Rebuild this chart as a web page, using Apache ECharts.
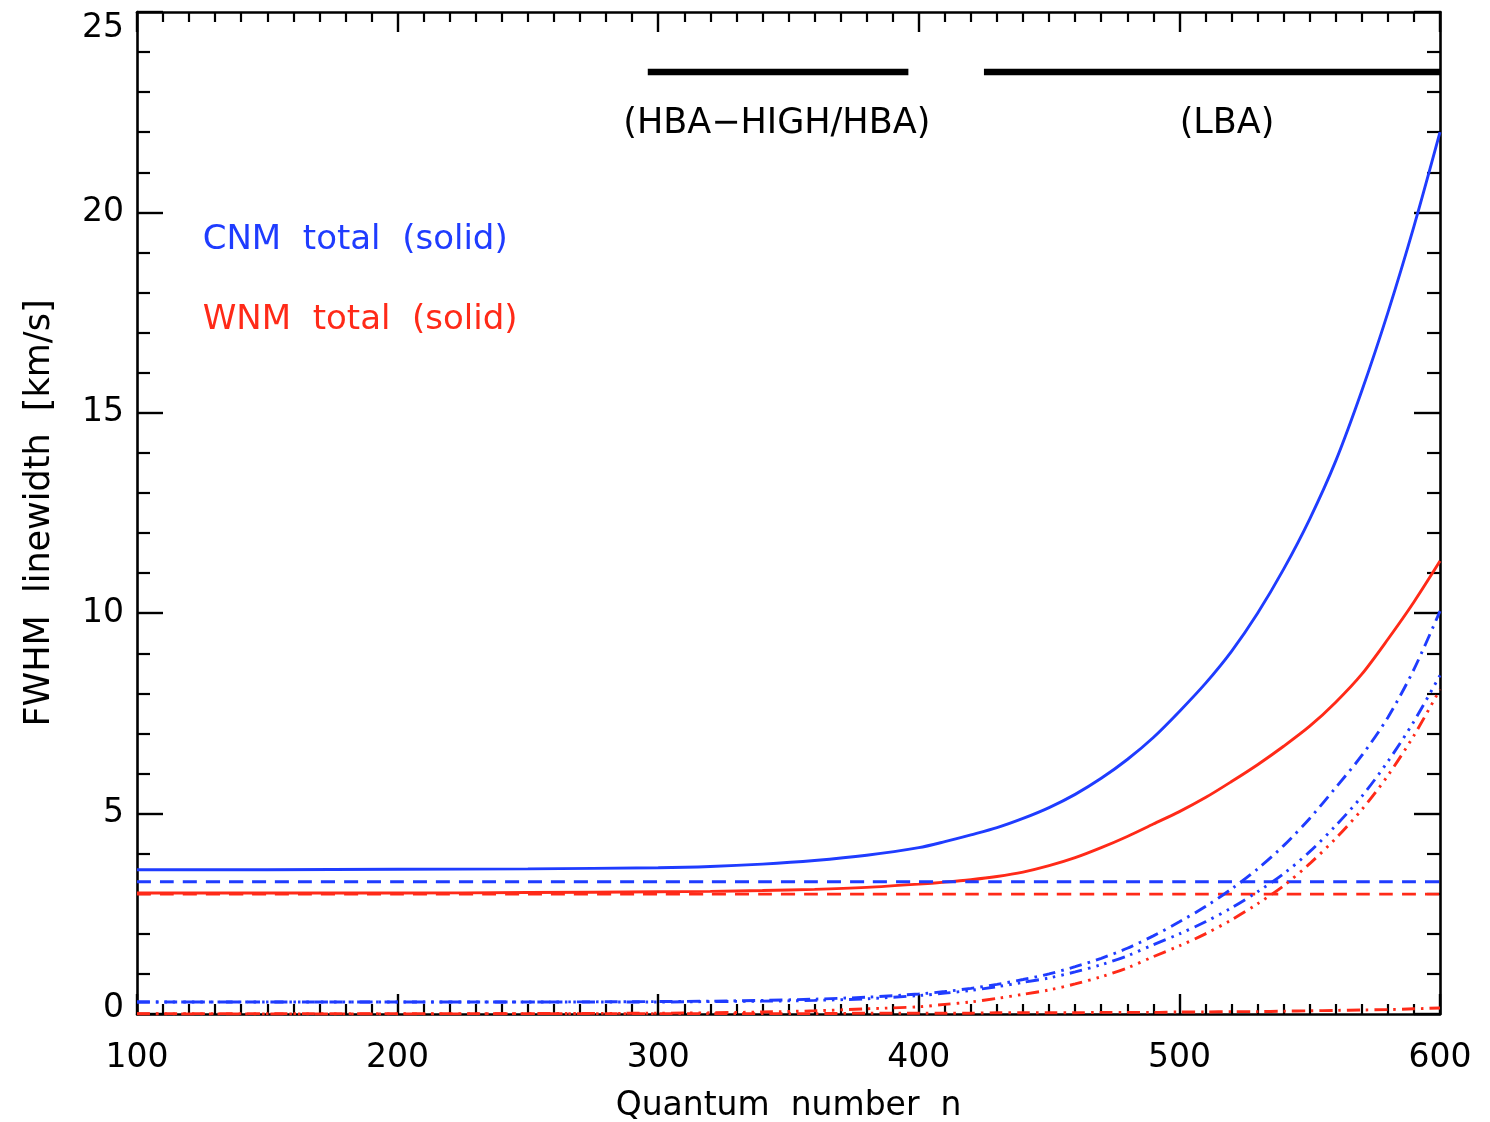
<!DOCTYPE html>
<html>
<head>
<meta charset="utf-8">
<title>FWHM linewidth vs quantum number</title>
<script src="https://cdn.jsdelivr.net/npm/echarts@6/dist/echarts.min.js"></script>
<style>
  html, body { margin: 0; padding: 0; background: #ffffff; }
  #chart { width: 1490px; height: 1122px; }
</style>
</head>
<body>
<div id="chart"></div>
<script>
// Principal quantum number grid
const quantumN = [100, 150, 200, 250, 300, 320, 340, 360, 380,
  400, 410, 420, 430, 440, 450, 460, 470, 480, 490, 500,
  510, 520, 530, 540, 550, 560, 570, 580, 590, 600];

// FWHM linewidths [km/s]
const cnmTotal = [3.60, 3.60, 3.61, 3.62, 3.65, 3.68, 3.74, 3.83, 3.96,
  4.15, 4.30, 4.47, 4.65, 4.88, 5.15, 5.48, 5.88, 6.35, 6.90, 7.55,
  8.25, 9.05, 10.00, 11.10, 12.35, 13.80, 15.55, 17.50, 19.65, 22.00];
const wnmTotal = [3.02, 3.02, 3.02, 3.03, 3.05, 3.06, 3.08, 3.11, 3.16,
  3.24, 3.29, 3.35, 3.43, 3.54, 3.70, 3.90, 4.15, 4.43, 4.74, 5.05,
  5.40, 5.80, 6.22, 6.68, 7.18, 7.78, 8.48, 9.35, 10.28, 11.30];
const cnmDoppler = [3.30, 3.30, 3.30, 3.30, 3.30, 3.30, 3.30, 3.30, 3.30,
  3.30, 3.30, 3.30, 3.30, 3.30, 3.30, 3.30, 3.30, 3.30, 3.30, 3.30,
  3.30, 3.30, 3.30, 3.30, 3.30, 3.30, 3.30, 3.30, 3.30, 3.30];
const wnmDoppler = [2.99, 2.99, 2.99, 2.99, 2.99, 2.99, 2.99, 2.99, 2.99,
  2.99, 2.99, 2.99, 2.99, 2.99, 2.99, 2.99, 2.99, 2.99, 2.99, 2.99,
  2.99, 2.99, 2.99, 2.99, 2.99, 2.99, 2.99, 2.99, 2.99, 2.99];
const cnmPressure = [0.30, 0.30, 0.30, 0.30, 0.31, 0.32, 0.34, 0.37, 0.42,
  0.50, 0.56, 0.64, 0.74, 0.86, 1.00, 1.18, 1.39, 1.64, 1.95, 2.30,
  2.68, 3.12, 3.62, 4.20, 4.88, 5.65, 6.45, 7.40, 8.60, 10.05];
const cnmRadiation = [0.30, 0.30, 0.30, 0.30, 0.30, 0.31, 0.32, 0.34, 0.38,
  0.46, 0.52, 0.59, 0.68, 0.79, 0.90, 1.05, 1.23, 1.45, 1.73, 2.00,
  2.30, 2.65, 3.05, 3.50, 4.05, 4.70, 5.43, 6.30, 7.30, 8.45];
const wnmRadiation = [0.00, 0.00, 0.00, 0.01, 0.02, 0.03, 0.05, 0.08, 0.13,
  0.18, 0.24, 0.30, 0.39, 0.49, 0.60, 0.75, 0.93, 1.15, 1.43, 1.70,
  2.00, 2.35, 2.75, 3.20, 3.75, 4.38, 5.10, 5.95, 6.95, 8.10];
const wnmPressure = [0.01, 0.01, 0.01, 0.01, 0.01, 0.01, 0.01, 0.01, 0.02,
  0.02, 0.02, 0.02, 0.03, 0.03, 0.03, 0.03, 0.04, 0.04, 0.04, 0.05,
  0.05, 0.06, 0.06, 0.07, 0.08, 0.09, 0.10, 0.11, 0.13, 0.15];

// LOFAR observing bands (range in n, bar height in km/s)
const bandNames = ['(HBA\u2212HIGH/HBA)', '(LBA)'];
const bandRanges = [[296, 396], [425, 600]];
const bandLevel = 23.5;
const bandLabelPos = [[345.5, 22.22], [518.3, 22.22]];

// Axis ticks
const xTicks = { min: 100, max: 600, step: 100 };
const yTicks = { min: 0, max: 25, step: 5 };

const BLUE = '#1f3cff';
const RED = '#ff2a18';
const FONT = 'DejaVu Sans';

const pairs = (ys) => quantumN.map((n, i) => [n, ys[i]]);

const DASH = [14, 9];
const DASH_DOT = [13, 6, 2.5, 6];
const DASH_DOT3 = [13, 6, 2.5, 6, 2.5, 6, 2.5, 6];

function curve(name, ys, color, type) {
  return {
    name, type: 'line', data: pairs(ys),
    smooth: 0.3,
    showSymbol: false, symbol: 'none',
    lineStyle: { color, width: 2.9, type, cap: 'butt' },
    silent: true, z: 3
  };
}

const series = [
  curve('CNM total', cnmTotal, BLUE, 'solid'),
  curve('WNM total', wnmTotal, RED, 'solid'),
  curve('CNM Doppler', cnmDoppler, BLUE, DASH),
  curve('WNM Doppler', wnmDoppler, RED, DASH),
  curve('CNM pressure', cnmPressure, BLUE, DASH_DOT),
  curve('CNM radiation', cnmRadiation, BLUE, DASH_DOT3),
  curve('WNM radiation', wnmRadiation, RED, DASH_DOT3),
  curve('WNM pressure', wnmPressure, RED, DASH_DOT)
];

bandRanges.forEach((r, i) => {
  series.push({
    name: bandNames[i], type: 'line',
    data: [[r[0], bandLevel], [r[1], bandLevel]],
    showSymbol: false, symbol: 'none',
    lineStyle: { color: '#000', width: 6.5, cap: 'butt' },
    silent: true, z: 4
  });
});

const chart = echarts.init(document.getElementById('chart'), null, { renderer: 'canvas' });

const axisLineStyle = { color: '#000', width: 2.6 };

function xAxisDef(pos, showLabel) {
  return {
    type: 'value', position: pos,
    min: xTicks.min, max: xTicks.max, interval: xTicks.step,
    axisLine: { show: true, lineStyle: axisLineStyle, onZero: false },
    axisTick: { show: true, inside: true, length: 20, lineStyle: { color: '#000', width: 2.4 } },
    minorTick: { show: true, splitNumber: 10, length: 10, lineStyle: { color: '#000', width: 2.2 } },
    splitLine: { show: false },
    axisLabel: showLabel ? {
      show: true, margin: 28, fontFamily: FONT, fontSize: 33, color: '#000'
    } : { show: false },
    name: showLabel ? 'Quantum  number  n' : '',
    nameLocation: 'middle', nameGap: 76,
    nameTextStyle: { fontFamily: FONT, fontSize: 33, color: '#000' }
  };
}

function yAxisDef(pos, showLabel) {
  return {
    type: 'value', position: pos,
    min: yTicks.min, max: yTicks.max, interval: yTicks.step,
    axisLine: { show: true, lineStyle: axisLineStyle, onZero: false },
    axisTick: { show: true, inside: true, length: 26, lineStyle: { color: '#000', width: 2.4 } },
    minorTick: { show: true, splitNumber: 5, length: 13, lineStyle: { color: '#000', width: 2.2 } },
    splitLine: { show: false },
    axisLabel: showLabel ? {
      show: true, margin: 13, fontFamily: FONT, fontSize: 33, color: '#000',
      formatter: (v) => v === yTicks.min ? '{lo|' + v + '}' : (v === yTicks.max ? '{hi|' + v + '}' : String(v)),
      rich: {
        lo: { fontFamily: FONT, fontSize: 33, color: '#000', padding: [0, 0, 12, 0] },
        hi: { fontFamily: FONT, fontSize: 33, color: '#000', padding: [33, 0, 0, 0] }
      }
    } : { show: false },
    name: showLabel ? 'FWHM  linewidth  [km/s]' : '',
    nameLocation: 'middle', nameGap: 80, nameRotate: 90,
    nameTextStyle: { fontFamily: FONT, fontSize: 35, color: '#000' }
  };
}

chart.setOption({
  backgroundColor: '#ffffff',
  animation: false,
  grid: { left: 137, right: 50, top: 12, bottom: 108, containLabel: false, outerBoundsMode: 'none' },
  xAxis: [xAxisDef('bottom', true), xAxisDef('top', false)],
  yAxis: [yAxisDef('left', true), yAxisDef('right', false)],
  series
});

// Band names and legend texts, placed in data coordinates
const texts = bandLabelPos.map((p, i) => {
  const xy = chart.convertToPixel({ xAxisIndex: 0, yAxisIndex: 0 }, p);
  return {
    type: 'text', x: xy[0], y: xy[1], silent: true, z: 10,
    style: { text: bandNames[i], fontFamily: FONT, fontSize: 35, fill: '#000',
             align: 'center', verticalAlign: 'middle' }
  };
});
const legendItems = [
  { text: 'CNM  total  (solid)', color: BLUE, at: [125.2, 19.3] },
  { text: 'WNM  total  (solid)', color: RED, at: [125.2, 17.3] }
];
legendItems.forEach((it) => {
  const xy = chart.convertToPixel({ xAxisIndex: 0, yAxisIndex: 0 }, it.at);
  texts.push({
    type: 'text', x: xy[0], y: xy[1], silent: true, z: 10,
    style: { text: it.text, fontFamily: FONT, fontSize: 34, fill: it.color,
             align: 'left', verticalAlign: 'middle' }
  });
});
chart.setOption({ graphic: texts });
</script>
</body>
</html>
